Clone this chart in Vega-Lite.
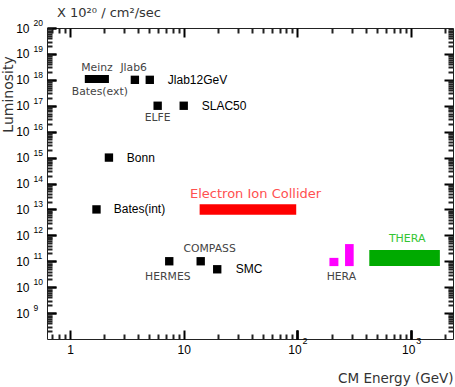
{
  "$schema": "https://vega.github.io/schema/vega-lite/v6.json",
  "width": 406,
  "height": 311,
  "autosize": {"type": "none"},
  "padding": {"left": 47, "top": 28, "right": 2, "bottom": 48},
  "background": "white",
  "title": {"text": "X 10²⁰ / cm²/sec", "anchor": "start", "frame": "group", "dx": 10, "dy": 12, "offset": 1, "baseline": "alphabetic", "font": "DejaVu Sans", "fontSize": 13, "fontWeight": "normal", "color": "#333"},
  "config": {
    "view": {"stroke": "#222", "strokeWidth": 1, "fill": null},
    "axis": {"domain": false, "grid": false, "zindex": 1, "labelFont": "Liberation Sans", "labelFontSize": 12, "labelColor": "#000"}
  },
  "datasets": {
    "bars": [
      {"name": "Meinz / Bates(ext)", "kind": "fixed", "e_lo": 1.35, "e_hi": 2.2, "l_lo": 7.6e17, "l_hi": 1.55e18},
      {"name": "Electron Ion Collider", "kind": "EIC", "e_lo": 13.8, "e_hi": 97.5, "l_lo": 6.2e12, "l_hi": 1.6e13},
      {"name": "HERA (a)", "kind": "HERA", "e_lo": 191, "e_hi": 229, "l_lo": 6.5e10, "l_hi": 1.35e11},
      {"name": "HERA (b)", "kind": "HERA", "e_lo": 262, "e_hi": 312, "l_lo": 6.5e10, "l_hi": 4.6e11},
      {"name": "THERA", "kind": "THERA", "e_lo": 428, "e_hi": 1786, "l_lo": 6.6e10, "l_hi": 2.7e11}
    ],
    "points": [
      {"name": "Jlab6", "energy": 3.72, "lumi": 1e18},
      {"name": "Jlab12GeV", "energy": 5.03, "lumi": 1e18},
      {"name": "ELFE", "energy": 5.9, "lumi": 1e17},
      {"name": "SLAC50", "energy": 10, "lumi": 1e17},
      {"name": "Bonn", "energy": 2.2, "lumi": 1e15},
      {"name": "Bates(int)", "energy": 1.71, "lumi": 1e13},
      {"name": "HERMES", "energy": 7.46, "lumi": 1e11},
      {"name": "COMPASS", "energy": 14.1, "lumi": 1e11},
      {"name": "SMC", "energy": 19.7, "lumi": 4.9e10}
    ],
    "labels_c": [
      {"label": "Meinz", "kind": "gray", "lx": 1.725, "ly": 2.9e18},
      {"label": "Jlab6", "kind": "gray", "lx": 3.63, "ly": 2.9e18},
      {"label": "Bates(ext)", "kind": "gray", "lx": 1.83, "ly": 3.4e17},
      {"label": "ELFE", "kind": "gray", "lx": 5.9, "ly": 3.4e16},
      {"label": "COMPASS", "kind": "gray", "lx": 16.9, "ly": 3.0e11},
      {"label": "HERMES", "kind": "gray", "lx": 7.25, "ly": 2.5e10},
      {"label": "HERA", "kind": "gray", "lx": 243, "ly": 2.5e10},
      {"label": "Electron Ion Collider", "kind": "EIC", "lx": 42.8, "ly": 3.9e13},
      {"label": "THERA", "kind": "THERA", "lx": 922, "ly": 7.1e11}
    ],
    "labels_l": [
      {"label": "Jlab12GeV", "lx": 7.25, "ly": 1e18},
      {"label": "SLAC50", "lx": 14.4, "ly": 1e17},
      {"label": "Bonn", "lx": 3.16, "ly": 1e15},
      {"label": "Bates(int)", "lx": 2.43, "ly": 1e13},
      {"label": "SMC", "lx": 28.6, "ly": 4.9e10}
    ]
  },
  "layer": [
    {
      "data": {"name": "bars"},
      "mark": {"type": "rect"},
      "encoding": {
        "x": {"field": "e_lo", "type": "quantitative", "scale": {"type": "log", "domain": [0.628, 2330], "nice": false},
          "axis": {"orient": "bottom", "offset": -9, "ticks": true, "tickSize": 9, "tickColor": "#000000", "tickWidth": 2, "values": [1, 10, 100, 1000], "labelExpr": "datum.value == 1 ? '1' : (datum.value == 10 ? '10' : '')", "labelPadding": 10, "labelBaseline": "middle", "title": "CM Energy (GeV)", "titleAnchor": "end", "titleFont": "DejaVu Sans", "titleFontSize": 13.5, "titleFontWeight": "normal", "titleColor": "#333", "titleY": 48, "titleBaseline": "middle"}},
        "x2": {"field": "e_hi"},
        "y": {"field": "l_lo", "type": "quantitative", "scale": {"type": "log", "domain": [1e8, 1e20], "nice": false},
          "axis": {"orient": "left", "offset": -9, "ticks": true, "tickSize": 9, "tickColor": "#000000", "tickWidth": 2, "values": [1e9, 1e10, 1e11, 1e12, 1e13, 1e14, 1e15, 1e16, 1e17, 1e18, 1e19, 1e20], "labelExpr": "'10'", "labelPadding": 18, "labelBaseline": "middle", "labelAlign": "right", "title": "Luminosity", "titleFont": "DejaVu Sans", "titleFontSize": 14, "titleFontWeight": "normal", "titleColor": "#333", "titleX": -44, "titleY": 66, "titleAngle": 270, "titleAlign": "center", "titleBaseline": "alphabetic"}},
        "y2": {"field": "l_hi"},
        "color": {"field": "kind", "type": "nominal", "scale": {"domain": ["fixed", "EIC", "HERA", "THERA"], "range": ["#000000", "#ff0000", "#ff00ff", "#00aa00"]}, "legend": null}
      }
    },
    {
      "data": {"name": "points"},
      "mark": {"type": "point", "shape": "square", "filled": true, "color": "#000", "size": 70, "opacity": 1},
      "encoding": {
        "x": {"field": "energy", "type": "quantitative", "scale": {"type": "log", "domain": [0.628, 2330], "nice": false},
          "axis": {"orient": "bottom", "offset": -9, "ticks": true, "tickSize": 9, "tickColor": "#000000", "tickWidth": 2, "values": [100, 1000], "labelExpr": "'10'", "labelOffset": -3, "labelPadding": 10, "labelBaseline": "middle", "title": null}},
        "y": {"field": "lumi", "type": "quantitative", "scale": {"type": "log", "domain": [1e8, 1e20], "nice": false},
          "axis": {"orient": "left", "offset": -9, "ticks": true, "tickSize": 9, "tickColor": "#000000", "tickWidth": 2, "values": [1e9, 1e10, 1e11, 1e12, 1e13, 1e14, 1e15, 1e16, 1e17, 1e18, 1e19, 1e20], "labelExpr": "format(log(datum.value)/LN10, '.0f')", "labelAlign": "left", "labelPadding": 14, "labelOffset": -5.5, "labelFontSize": 8.5, "labelBaseline": "middle", "title": null}}
      }
    },
    {
      "data": {"name": "labels_c"},
      "mark": {"type": "text", "align": "center", "baseline": "middle", "font": "DejaVu Sans"},
      "encoding": {
        "x": {"field": "lx", "type": "quantitative", "scale": {"type": "log", "domain": [0.628, 2330], "nice": false},
          "axis": {"orient": "bottom", "offset": -9, "ticks": true, "tickSize": 9, "tickColor": "#000000", "tickWidth": 2, "values": [100, 1000], "labelExpr": "datum.value == 100 ? '2' : '3'", "labelOffset": 7, "labelPadding": 1, "labelFontSize": 9, "labelBaseline": "middle", "title": null}},
        "y": {"field": "ly", "type": "quantitative", "scale": {"type": "log", "domain": [1e8, 1e20], "nice": false},
          "axis": {"orient": "left", "offset": -5, "ticks": true, "tickSize": 5, "tickColor": "#222222", "tickWidth": 2, "labels": false, "title": null, "values": [2e8,3e8,4e8,5e8,6e8,7e8,8e8,9e8,2e9,3e9,4e9,5e9,6e9,7e9,8e9,9e9,2e10,3e10,4e10,5e10,6e10,7e10,8e10,9e10,2e11,3e11,4e11,5e11,6e11,7e11,8e11,9e11,2e12,3e12,4e12,5e12,6e12,7e12,8e12,9e12,2e13,3e13,4e13,5e13,6e13,7e13,8e13,9e13,2e14,3e14,4e14,5e14,6e14,7e14,8e14,9e14,2e15,3e15,4e15,5e15,6e15,7e15,8e15,9e15,2e16,3e16,4e16,5e16,6e16,7e16,8e16,9e16,2e17,3e17,4e17,5e17,6e17,7e17,8e17,9e17,2e18,3e18,4e18,5e18,6e18,7e18,8e18,9e18,2e19,3e19,4e19,5e19,6e19,7e19,8e19,9e19]}},
        "text": {"field": "label", "type": "nominal"},
        "color": {"field": "kind", "type": "nominal", "scale": {"domain": ["gray", "EIC", "THERA"], "range": ["#444444", "#ff5050", "#33c433"]}, "legend": null},
        "size": {"field": "kind", "type": "ordinal", "scale": {"type": "ordinal", "domain": ["gray", "EIC", "THERA"], "range": [10.8, 13, 11]}, "legend": null}
      }
    },
    {
      "data": {"name": "labels_l"},
      "mark": {"type": "text", "align": "left", "baseline": "middle", "font": "Liberation Sans", "fontSize": 12, "color": "#000"},
      "encoding": {
        "x": {"field": "lx", "type": "quantitative", "scale": {"type": "log", "domain": [0.628, 2330], "nice": false},
          "axis": {"orient": "bottom", "offset": -5, "ticks": true, "tickSize": 5, "tickColor": "#222222", "tickWidth": 2, "labels": false, "title": null, "values": [0.7,0.8,0.9,2,3,4,5,6,7,8,9,20,30,40,50,60,70,80,90,200,300,400,500,600,700,800,900,2000]}},
        "y": {"field": "ly", "type": "quantitative", "scale": {"type": "log", "domain": [1e8, 1e20], "nice": false},
          "axis": {"orient": "right", "offset": -9, "ticks": true, "tickSize": 9, "tickColor": "#000000", "tickWidth": 2, "labels": false, "title": null, "values": [1e9, 1e10, 1e11, 1e12, 1e13, 1e14, 1e15, 1e16, 1e17, 1e18, 1e19]}},
        "text": {"field": "label", "type": "nominal"}
      }
    },
    {
      "data": {"name": "points"},
      "mark": {"type": "point", "opacity": 0},
      "encoding": {
        "x": {"field": "energy", "type": "quantitative", "scale": {"type": "log", "domain": [0.628, 2330], "nice": false},
          "axis": {"orient": "top", "offset": -9, "ticks": true, "tickSize": 9, "tickColor": "#000000", "tickWidth": 2, "labels": false, "title": null, "values": [1, 10, 100, 1000]}},
        "y": {"field": "lumi", "type": "quantitative", "scale": {"type": "log", "domain": [1e8, 1e20], "nice": false},
          "axis": {"orient": "right", "offset": -5, "ticks": true, "tickSize": 5, "tickColor": "#222222", "tickWidth": 2, "labels": false, "title": null, "values": [2e8,3e8,4e8,5e8,6e8,7e8,8e8,9e8,2e9,3e9,4e9,5e9,6e9,7e9,8e9,9e9,2e10,3e10,4e10,5e10,6e10,7e10,8e10,9e10,2e11,3e11,4e11,5e11,6e11,7e11,8e11,9e11,2e12,3e12,4e12,5e12,6e12,7e12,8e12,9e12,2e13,3e13,4e13,5e13,6e13,7e13,8e13,9e13,2e14,3e14,4e14,5e14,6e14,7e14,8e14,9e14,2e15,3e15,4e15,5e15,6e15,7e15,8e15,9e15,2e16,3e16,4e16,5e16,6e16,7e16,8e16,9e16,2e17,3e17,4e17,5e17,6e17,7e17,8e17,9e17,2e18,3e18,4e18,5e18,6e18,7e18,8e18,9e18,2e19,3e19,4e19,5e19,6e19,7e19,8e19,9e19]}}
      }
    },
    {
      "data": {"name": "points"},
      "mark": {"type": "point", "opacity": 0},
      "encoding": {
        "x": {"field": "energy", "type": "quantitative", "scale": {"type": "log", "domain": [0.628, 2330], "nice": false},
          "axis": {"orient": "top", "offset": -5, "ticks": true, "tickSize": 5, "tickColor": "#222222", "tickWidth": 2, "labels": false, "title": null, "values": [0.7,0.8,0.9,2,3,4,5,6,7,8,9,20,30,40,50,60,70,80,90,200,300,400,500,600,700,800,900,2000]}},
        "y": {"field": "lumi", "type": "quantitative", "scale": {"type": "log", "domain": [1e8, 1e20], "nice": false}, "axis": null}
      }
    }
  ],
  "resolve": {"axis": {"x": "independent", "y": "independent"}, "scale": {"color": "independent", "size": "independent"}}
}
